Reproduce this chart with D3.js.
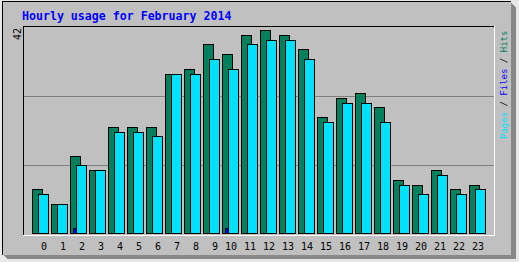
<!DOCTYPE html>
<html>
<head>
<meta charset="utf-8">
<script src="https://cdn.jsdelivr.net/npm/d3@7"></script>
<style>
  html, body { margin: 0; padding: 0; background: #E8E8E8; }
  svg { display: block; }
</style>
</head>
<body>
<div id="chart"></div>
<script>
// Données
const hours = ["0","1","2","3","4","5","6","7","8","9","10","11","12","13","14","15","16","17","18","19","20","21","22","23"];
const hits  = [9, 6, 16, 13, 22, 22, 22, 33, 34, 39, 37, 41, 42, 41, 38, 24, 28, 29, 26, 11, 10, 13, 9, 10];
const files = [0, 0, 1, 0, 0, 0, 0, 0, 0, 0, 1, 0, 0, 0, 0, 0, 0, 0, 0, 0, 0, 0, 0, 0];
const pages = [8, 6, 14, 13, 21, 21, 20, 33, 33, 36, 34, 39, 40, 40, 36, 23, 27, 27, 23, 10, 8, 12, 8, 9];
const maxLabel = 42;
const title = "Hourly usage for February 2014";

const W = 519, H = 262;
const colors = {
  panel: "#C0C0C0",
  shadow: "#888888",
  grid: "#808080",
  hits: "#00805C",
  files: "#0000FF",
  pages: "#00E0FF",
  title: "#0000FF",
};
const mono = "'DejaVu Sans Mono', 'Liberation Mono', monospace";

// zone de tracé
const plot = { left: 23, top: 26, right: 494, bottom: 235 };

const svg = d3.select("#chart").append("svg")
  .attr("width", W).attr("height", H)
  .attr("shape-rendering", "crispEdges");

// ombre 3D
svg.append("path")
  .attr("d", "M511,3 L516,8 L516,259 L7,259 L3,255 L511,255 Z")
  .attr("fill", colors.shadow);

// panneau gris
svg.append("rect")
  .attr("x", 2).attr("y", 1)
  .attr("width", 509).attr("height", 254)
  .attr("fill", colors.panel);
svg.append("path")
  .attr("d", "M2.5,255 L2.5,1.5 L511,1.5")
  .attr("fill", "none").attr("stroke", "#000");

// titre
svg.append("text")
  .attr("x", 22).attr("y", 20)
  .attr("fill", colors.title)
  .style("font-family", mono)
  .style("font-size", "11.6px")
  .style("font-weight", "bold")
  .text(title);

// cadre du tracé
const g = svg.append("g");
g.append("path")
  .attr("d", `M${plot.left + 0.5},${plot.bottom} L${plot.left + 0.5},${plot.top + 0.5} L${plot.right},${plot.top + 0.5}`)
  .attr("fill", "none").attr("stroke", "#000");
g.append("path")
  .attr("d", `M${plot.left},${plot.bottom + 0.5} L${plot.right + 0.5},${plot.bottom + 0.5} L${plot.right + 0.5},${plot.top}`)
  .attr("fill", "none").attr("stroke", "#fff");

// lignes de grille (tiers de la zone)
const ph = plot.bottom - plot.top;
[1, 2].forEach((k) => {
  const y = Math.round(plot.top + (ph * k) / 3) + 0.5;
  g.append("line")
    .attr("x1", plot.left + 1).attr("x2", plot.right)
    .attr("y1", y).attr("y2", y)
    .attr("stroke", colors.grid);
});

// échelles
const x = d3.scaleBand().domain(hours).range([29, 29 + 19 * hours.length]).padding(0);
const y = d3.scaleLinear().domain([0, maxLabel]).range([233, 30]);

const drawSeries = (values, offset, color) => {
  g.append("g")
    .selectAll("rect")
    .data(values.map((v, i) => ({ h: hours[i], v })).filter((d) => d.v > 0))
    .join("rect")
    .attr("x", (d) => x(d.h) + offset + 0.5)
    .attr("y", (d) => Math.round(y(d.v)) + 0.5)
    .attr("width", 10)
    .attr("height", (d) => 233 - Math.round(y(d.v)))
    .attr("fill", color)
    .attr("stroke", "#000");
};

drawSeries(hits, 3, colors.hits);
drawSeries(files, 6, colors.files);
drawSeries(pages, 9, colors.pages);

// axe des heures
g.append("g")
  .selectAll("text")
  .data(hours)
  .join("text")
  .attr("x", (d) => x(d) + (d.length < 2 ? 12 : 6))
  .attr("y", 250)
  .style("font-family", mono)
  .style("font-size", "10px")
  .attr("fill", "#000")
  .text((d) => d);

// valeur max
svg.append("text")
  .attr("transform", `translate(21,${y(maxLabel) - 2}) rotate(-90)`)
  .attr("text-anchor", "end")
  .style("font-family", mono)
  .style("font-size", "10px")
  .attr("fill", "#000")
  .text(maxLabel);

// légende verticale
const legend = svg.append("text")
  .attr("transform", "translate(507,139) rotate(-90)")
  .style("font-family", mono)
  .style("font-size", "9px");
legend.append("tspan").attr("fill", colors.pages).text("Pages");
legend.append("tspan").attr("fill", "#000").text(" / ");
legend.append("tspan").attr("fill", colors.files).text("Files");
legend.append("tspan").attr("fill", "#000").text(" / ");
legend.append("tspan").attr("fill", colors.hits).text("Hits");
</script>
</body>
</html>
